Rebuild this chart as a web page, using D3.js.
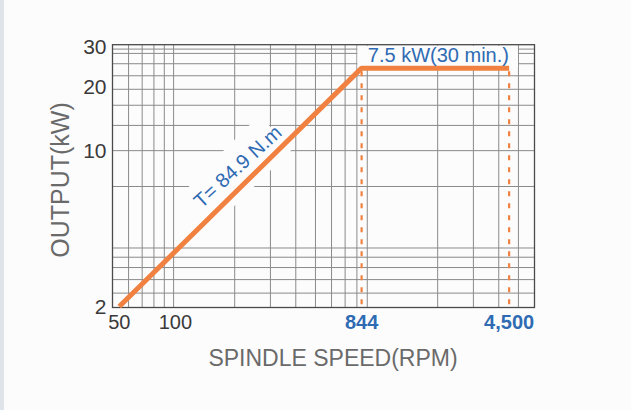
<!DOCTYPE html>
<html>
<head>
<meta charset="utf-8">
<script src="https://cdn.jsdelivr.net/npm/d3@7"></script>
<style>
  body { margin: 0; background: #fcfcfc; }
</style>
</head>
<body>
<div id="chart"></div>
<script>
// Output curve (speed in rpm, power read on the printed kW axis)
const speedRpm = [54, 844, 4500];
const outputKw = [1.72, 25.4, 25.4];
const ratedSpeeds = [844, 4500]; // dashed drop lines

// log-paper grid as printed
const speedGrid = [60, 70, 80, 90, 100, 200, 300, 400, 500, 600, 700, 800, 900, 2000, 3000, 4000, 5000];
const outputGrid = [2, 2.33, 2.67, 3, 3.33, 6.67, 10, 13.3, 16.7, 20, 23.3, 26.7, 30, 31.5];

// tick labels and where they sit on the axes
const xTickAt = [54, 102, 844, 4500];
const xTickLabels = ["50", "100", "844", "4,500"];
const xTickBlue = [false, false, true, true];
const yTickAt = [1.72, 10, 20.6, 32.5];
const yTickLabels = ["2", "10", "20", "30"];

const torqueLabel = "T= 84.9 N.m";
const torqueLabelAt = 235; // rpm on the sloped part
const powerLabel = "7.5 kW(30 min.)";

const width = 631, height = 410;
const marginLeft = 112.5, marginRight = 96.5, marginTop = 44.7, marginBottom = 102.5;
const orange = "#f08140", blue = "#2f6bb3", gridColor = "#8a8a8a";
const font = "'Liberation Sans', Arial, sans-serif";

const x = d3.scaleLog().domain([50, 6000]).range([marginLeft, width - marginRight]);
const y = d3.scaleLog().domain([1.7, 33.1]).range([height - marginBottom, marginTop]);

const svg = d3.select("#chart")
  .append("svg")
  .attr("width", width)
  .attr("height", height)
  .attr("viewBox", [0, 0, width, height]);

svg.append("rect").attr("width", width).attr("height", height).attr("fill", "#fcfcfc");
// faint scan edge on the left
svg.append("rect").attr("width", 4).attr("height", height).attr("fill", "#dfe4ea");

// grid
const grid = svg.append("g").attr("stroke", gridColor).attr("stroke-width", 1);
grid.selectAll(".vx")
  .data(speedGrid)
  .join("line")
    .attr("x1", d => x(d)).attr("x2", d => x(d))
    .attr("y1", y.range()[0]).attr("y2", y.range()[1]);
grid.selectAll(".hy")
  .data(outputGrid)
  .join("line")
    .attr("y1", d => y(d)).attr("y2", d => y(d))
    .attr("x1", x.range()[0]).attr("x2", x.range()[1]);

// sloped segment helper (log interpolation)
const slope = Math.log(outputKw[1] / outputKw[0]) / Math.log(speedRpm[1] / speedRpm[0]);
const kwAt = rpm => outputKw[0] * Math.pow(rpm / speedRpm[0], slope);
const angle = Math.atan2(y(outputKw[1]) - y(outputKw[0]), x(speedRpm[1]) - x(speedRpm[0])) * 180 / Math.PI;
const footX = x(torqueLabelAt), footY = y(kwAt(torqueLabelAt));

// white knock-outs behind the labels
svg.append("rect")
  .attr("transform", `translate(${footX},${footY}) rotate(${angle})`)
  .attr("x", -48).attr("y", -38)
  .attr("width", 100).attr("height", 47)
  .attr("fill", "#fcfcfc");
svg.append("rect")
  .attr("x", x(800) + 0.5).attr("y", y.range()[1] + 1)
  .attr("width", x(5000) - x(800) - 1).attr("height", y(outputKw[1]) - y.range()[1] - 1)
  .attr("fill", "#fcfcfc");

// frame
svg.append("rect")
  .attr("x", x.range()[0]).attr("y", y.range()[1])
  .attr("width", x.range()[1] - x.range()[0])
  .attr("height", y.range()[0] - y.range()[1])
  .attr("fill", "none")
  .attr("stroke", "#4a4a4a")
  .attr("stroke-width", 1.3);

// dashed drop lines
svg.append("g")
  .selectAll("line")
  .data(ratedSpeeds)
  .join("line")
    .attr("x1", d => x(d)).attr("x2", d => x(d))
    .attr("y1", y(outputKw[1]) + 3).attr("y2", y.range()[0])
    .attr("stroke", orange)
    .attr("stroke-width", 2.2)
    .attr("stroke-dasharray", "5,7");

// output curve
const line = d3.line().x(d => x(d[0])).y(d => y(d[1]));
svg.append("path")
  .datum(d3.zip(speedRpm, outputKw))
  .attr("d", line)
  .attr("fill", "none")
  .attr("stroke", orange)
  .attr("stroke-width", 5)
  .attr("stroke-linejoin", "round");

// labels on the curve
svg.append("text")
  .attr("transform", `translate(${footX},${footY}) rotate(${angle + 2}) translate(0,-10)`)
  .attr("text-anchor", "middle")
  .attr("font-family", font)
  .attr("font-size", 20)
  .attr("fill", blue)
  .text(torqueLabel);

svg.append("text")
  .attr("x", (x(speedRpm[1]) + x(speedRpm[2])) / 2 + 3)
  .attr("y", y(outputKw[1]) - 6)
  .attr("text-anchor", "middle")
  .attr("font-family", font)
  .attr("font-size", 20)
  .attr("fill", blue)
  .text(powerLabel);

// tick labels
svg.append("g")
  .selectAll("text")
  .data(xTickAt)
  .join("text")
    .attr("x", d => x(d))
    .attr("y", y.range()[0] + 21)
    .attr("text-anchor", "middle")
    .attr("font-family", font)
    .attr("font-size", 20)
    .attr("font-weight", (d, i) => xTickBlue[i] ? "bold" : "normal")
    .attr("fill", (d, i) => xTickBlue[i] ? blue : "#3a3a3a")
    .text((d, i) => xTickLabels[i]);

svg.append("g")
  .selectAll("text")
  .data(yTickAt)
  .join("text")
    .attr("x", x.range()[0] - 6)
    .attr("y", d => y(d))
    .attr("dy", "0.35em")
    .attr("text-anchor", "end")
    .attr("font-family", font)
    .attr("font-size", 21)
    .attr("fill", "#3a3a3a")
    .text((d, i) => yTickLabels[i]);

// axis titles
svg.append("text")
  .attr("x", 333)
  .attr("y", 366)
  .attr("text-anchor", "middle")
  .attr("font-family", font)
  .attr("font-size", 23)
  .attr("fill", "#6a6a6a")
  .text("SPINDLE SPEED(RPM)");

svg.append("text")
  .attr("transform", "translate(69,180) rotate(-90)")
  .attr("text-anchor", "middle")
  .attr("font-family", font)
  .attr("font-size", 25)
  .attr("fill", "#6a6a6a")
  .text("OUTPUT(kW)");
</script>
</body>
</html>
